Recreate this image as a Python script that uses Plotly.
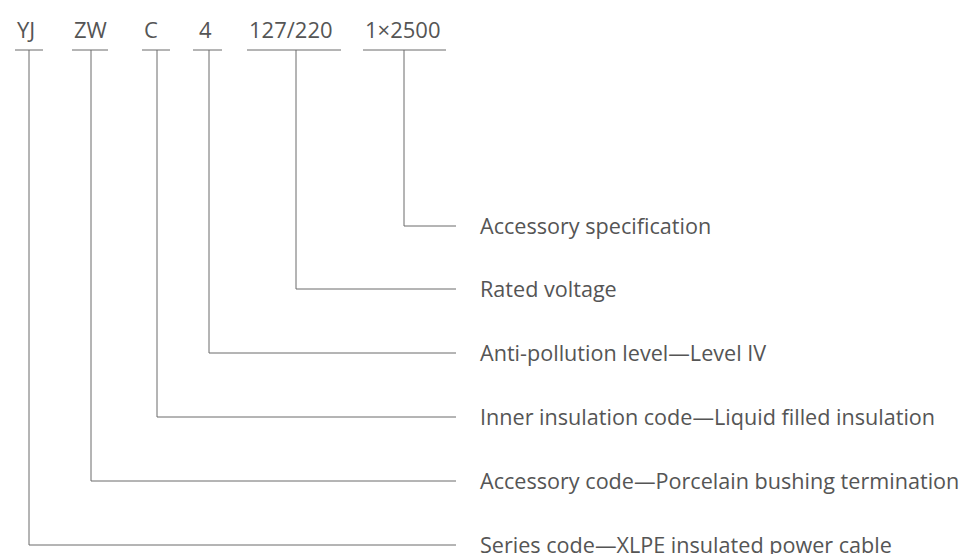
import plotly.graph_objects as go

codes = ["YJ", "ZW", "C", "4", "127/220", "1×2500"]
descriptions = [
    "Series code—XLPE insulated power cable",
    "Accessory code—Porcelain bushing termination",
    "Inner insulation code—Liquid filled insulation",
    "Anti-pollution level—Level IV",
    "Rated voltage",
    "Accessory specification",
]

# layout geometry (pixel space of the diagram)
code_text_x = [15, 72, 142, 197, 247, 363]
underline_start = [15, 72, 142, 193, 247, 363]
underline_end = [43, 108, 170, 222, 341, 446]
stem_x = [29, 91, 157, 209, 296, 404]
row_y = [545, 481, 417, 353, 289, 226]
underline_y = 50
code_y = 29
line_end_x = 456
label_x = 478

LINE = "#6a6a6a"
TEXT = "#555555"
FONT = "Open Sans"

fig = go.Figure()
for i in range(len(codes)):
    fig.add_trace(go.Scatter(
        x=[underline_start[i], underline_end[i]], y=[underline_y, underline_y],
        mode="lines", line=dict(color=LINE, width=1), hoverinfo="skip", showlegend=False))
    fig.add_trace(go.Scatter(
        x=[stem_x[i], stem_x[i], line_end_x], y=[underline_y, row_y[i], row_y[i]],
        mode="lines", line=dict(color=LINE, width=1), hoverinfo="skip", showlegend=False))
    fig.add_annotation(x=code_text_x[i], y=code_y, text=codes[i], showarrow=False,
                       xanchor="left", yanchor="middle",
                       font=dict(family=FONT, size=22, color=TEXT))
    fig.add_annotation(x=label_x, y=row_y[i] - 1, text=descriptions[i], showarrow=False,
                       xanchor="left", yanchor="middle",
                       font=dict(family=FONT, size=21.6, color=TEXT))

fig.update_layout(
    width=963, height=554,
    margin=dict(l=0, r=0, t=0, b=0),
    paper_bgcolor="white", plot_bgcolor="white",
    xaxis=dict(range=[0, 963], visible=False, fixedrange=True),
    yaxis=dict(range=[554, 0], visible=False, fixedrange=True),
)
fig.write_html(
    "out.html",
    config={"displayModeBar": False},
    post_script="document.body.style.margin='0';document.body.style.overflow='hidden';",
)
